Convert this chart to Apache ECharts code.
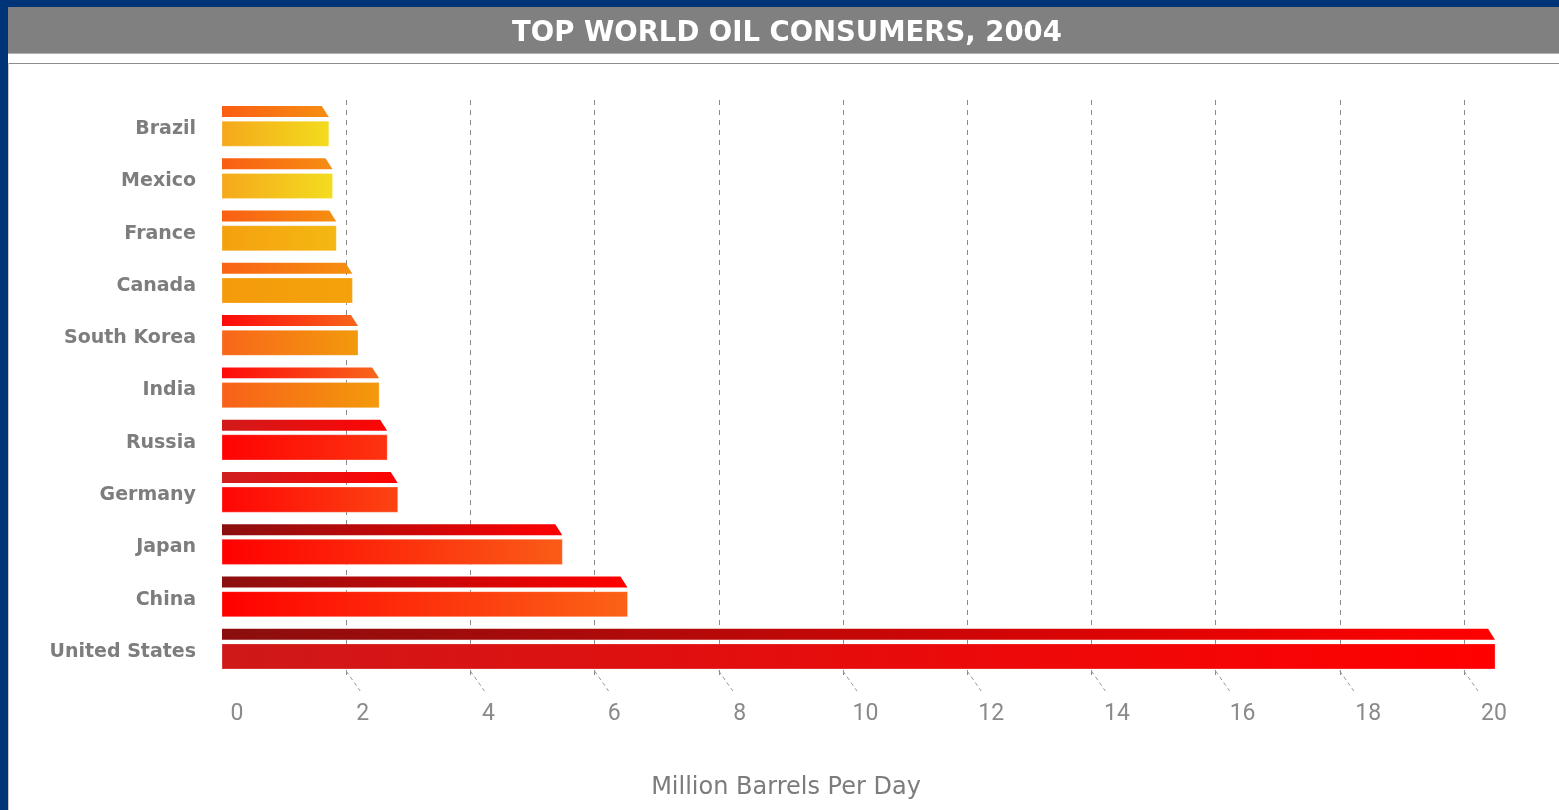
<!DOCTYPE html>
<html>
<head>
<meta charset="utf-8">
<title>Top World Oil Consumers, 2004</title>
<script src="https://cdn.jsdelivr.net/npm/echarts@6/dist/echarts.min.js"></script>
<style>
  html, body { margin: 0; padding: 0; background: #003478; }
  #chart { width: 1559px; height: 810px; }
</style>
</head>
<body>
<div id="chart"></div>
<script>
// Oil consumption by country, million barrels per day
const countries = ['Brazil', 'Mexico', 'France', 'Canada', 'South Korea', 'India',
                   'Russia', 'Germany', 'Japan', 'China', 'United States'];
const consumption = [1.72, 1.78, 1.84, 2.10, 2.19, 2.53, 2.66, 2.83, 5.48, 6.53, 20.5];
const tickValues = [2, 4, 6, 8, 10, 12, 14, 16, 18, 20];

// Gradient ends (left, right) for the thin top face and the front face of each bar
const topColors = [
  ['#fa5e12', '#f68e12'], ['#fa5e12', '#f68e12'], ['#fa5e14', '#f58f10'],
  ['#f96315', '#f5900f'], ['#fd0a0a', '#f7661b'], ['#fe0a0a', '#f7661b'],
  ['#d11a1a', '#fd0404'], ['#cf1f1f', '#ff0202'], ['#8b0f0f', '#ff0000'],
  ['#8b0f0f', '#ff0000'], ['#8b0e0e', '#ff0000']
];
const faceColors = [
  ['#f5a81b', '#f3dc1e'], ['#f5a81b', '#f3dd1f'], ['#f5a00f', '#f4b812'],
  ['#f49b0c', '#f4a20c'], ['#f8661a', '#f39a0c'], ['#f8601a', '#f39a0b'],
  ['#ff0202', '#fd3410'], ['#ff0505', '#fc4412'], ['#ff0000', '#fa5c17'],
  ['#ff0000', '#fb6317'], ['#cf1818', '#ff0000']
];

const chart = echarts.init(document.getElementById('chart'));

function hGradient(pair) {
  return new echarts.graphic.LinearGradient(0, 0, 1, 0, [
    { offset: 0, color: pair[0] },
    { offset: 1, color: pair[1] }
  ]);
}

// Each bar: a thin chamfered top strip above a taller front face
function renderBar(params, api) {
  const i = params.dataIndex;
  const cat = api.value(1);
  const end = api.coord([api.value(0), cat]);
  const start = api.coord([0, cat]);
  const band = api.size([0, 1])[1];
  const c = end[1];
  const x0 = start[0];
  const x1 = end[0];
  const stripTop = c - band * 0.385;
  const stripBottom = c - band * 0.175;
  const faceTop = c - band * 0.095;
  const faceBottom = c + band * 0.385;
  const chamfer = 7;
  return {
    type: 'group',
    children: [
      {
        type: 'polygon',
        shape: { points: [[x0, stripTop], [x1 - chamfer, stripTop], [x1, stripBottom], [x0, stripBottom]] },
        style: { fill: hGradient(topColors[i]) }
      },
      {
        type: 'rect',
        shape: { x: x0, y: faceTop, width: x1 - x0, height: faceBottom - faceTop },
        style: { fill: hGradient(faceColors[i]), stroke: 'rgba(255,255,255,0.25)', lineWidth: 1 }
      }
    ]
  };
}

// Short slanted dashes leading from each grid line down toward its tick label
function renderLeader(params, api) {
  const p = api.coord([api.value(0), 0]);
  const yb = params.coordSys.y + params.coordSys.height;
  return {
    type: 'line',
    shape: { x1: p[0], y1: yb - 4, x2: p[0] + 14, y2: yb + 16 },
    style: { stroke: '#9a9a9a', lineWidth: 1, lineDash: [4, 3] }
  };
}

const option = {
  backgroundColor: '#003478',
  animation: false,
  graphic: [
    { type: 'rect', z: -100, shape: { x: 8, y: 7, width: 1551, height: 46 }, style: { fill: '#808080' } },
    { type: 'rect', z: -100, shape: { x: 8, y: 53, width: 1551, height: 757 }, style: { fill: '#ffffff' } },
    { type: 'rect', z: -99, shape: { x: 8, y: 53, width: 1551, height: 1 }, style: { fill: '#b0b0b0' } },
    { type: 'rect', z: -99, shape: { x: 8, y: 63, width: 1551, height: 1 }, style: { fill: '#8c8c8c' } },
    { type: 'rect', z: -99, shape: { x: 8, y: 63, width: 1, height: 747 }, style: { fill: '#c8c8c8' } }
  ],
  title: [
    {
      text: 'TOP WORLD OIL CONSUMERS, 2004',
      left: 787,
      top: 20,
      textAlign: 'center',
      padding: 0,
      textStyle: { color: '#ffffff', fontFamily: 'DejaVu Sans', fontWeight: 'bold', fontSize: 27.5 }
    },
    {
      text: 'Million Barrels Per Day',
      left: 786,
      top: 776,
      textAlign: 'center',
      padding: 0,
      textStyle: { color: '#7c7c7c', fontFamily: 'DejaVu Sans', fontWeight: 'normal', fontSize: 24 }
    }
  ],
  grid: [
    { left: 222, right: 95, top: 100, height: 575 },
    { left: 237, right: 65, top: 700, height: 1 }
  ],
  xAxis: [
    {
      gridIndex: 0,
      type: 'value',
      min: 0,
      max: 20,
      interval: 2,
      axisLine: { show: false },
      axisTick: { show: false },
      axisLabel: { show: false },
      splitLine: {
        show: true,
        showMinLine: false,
        lineStyle: { color: '#8a8a8a', type: [5, 5], width: 1 }
      }
    },
    {
      gridIndex: 1,
      type: 'value',
      min: 0,
      max: 20,
      interval: 2,
      axisLine: { show: false },
      axisTick: { show: false },
      splitLine: { show: false },
      axisLabel: { color: '#8a8a8a', fontFamily: 'Roboto', fontSize: 23, margin: 2 }
    }
  ],
  yAxis: [
    {
      gridIndex: 0,
      type: 'category',
      data: countries,
      inverse: true,
      axisLine: { show: false },
      axisTick: { show: false },
      splitLine: { show: false },
      axisLabel: {
        margin: 26,
        formatter: v => '{n|' + v + '}',
        rich: {
          n: {
            color: '#7d7d7d',
            fontFamily: 'DejaVu Sans',
            fontWeight: 'bold',
            fontSize: 19,
            padding: [6, 0, 0, 0]
          }
        }
      }
    },
    { gridIndex: 1, type: 'value', show: false }
  ],
  series: [
    {
      type: 'custom',
      name: 'Consumption',
      xAxisIndex: 0,
      yAxisIndex: 0,
      renderItem: renderBar,
      encode: { x: 0, y: 1 },
      data: consumption.map((v, i) => [v, i]),
      clip: false,
      z: 3
    },
    {
      type: 'custom',
      name: 'Leaders',
      xAxisIndex: 0,
      yAxisIndex: 0,
      renderItem: renderLeader,
      encode: { x: 0, y: 1 },
      data: tickValues.map(v => [v, 0]),
      clip: false,
      silent: true,
      z: 1
    }
  ]
};

chart.setOption(option);
</script>
</body>
</html>
